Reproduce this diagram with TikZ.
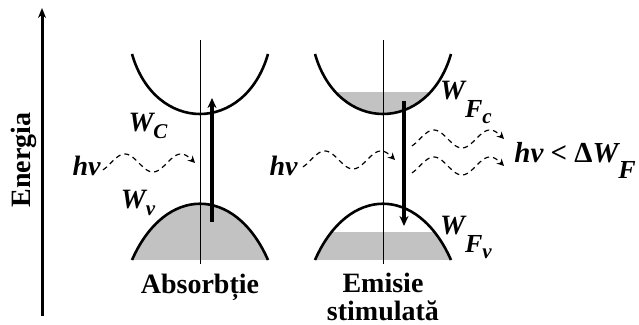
\documentclass[tikz,border=0pt]{standalone}
\usepackage{fontspec}
\setmainfont{Liberation Serif}
\usetikzlibrary{arrows.meta}
\definecolor{bandgrey}{HTML}{C2C2C2}

\tikzset{
  bandline/.style={line width=1.3pt},
  axisline/.style={line width=1.5pt, -{Stealth[length=5pt,width=4pt]}},
  levelline/.style={line width=0.5pt},
  transition/.style={line width=1.6pt, -{Stealth[length=5pt,width=4.5pt]}},
  photon/.style={line width=0.6pt, dash pattern=on 2.5pt off 2pt, -{Stealth[length=3.5pt,width=3.5pt]}},
  caption/.style={font=\fontsize{14}{14}\selectfont\bfseries, align=center, inner sep=0pt},
  sym/.style={font=\fontsize{14}{15}\selectfont\bfseries\itshape, inner sep=0pt},
}
\newcommand\lowsub[2]{\raisebox{#1}{\fontsize{10.5}{11}\selectfont #2}}

\begin{document}
\begin{tikzpicture}[x=0.5pt, y=-0.5pt]
  \useasboundingbox (0,0) rectangle (639,325);
  % energy axis
  \coordinate (e0) at (42,316);
  \coordinate (e1) at (42,8);
  \draw[axisline] (e0) -- (e1);
  \node[caption, rotate=90] (energy) at (24,160) {Energia};

  % grey fillings
  \fill[bandgrey] (132,260) .. controls (165,185) and (235,185) .. (268,260) -- cycle;
  \begin{scope}
    \clip (315,54) .. controls (338,134) and (428,134) .. (451,54) -- cycle;
    \fill[bandgrey] (300,92) rectangle (470,130);
  \end{scope}
  \begin{scope}
    \clip (315,260) .. controls (348,185) and (418,185) .. (451,260) -- cycle;
    \fill[bandgrey] (300,232) rectangle (470,262);
  \end{scope}

  % bands: conduction and valence
  \foreach \cx in {200,383} {
    \draw[levelline] (\cx,40) -- (\cx,264);
    \draw[bandline] (\cx-68,54) .. controls (\cx-45,134) and (\cx+45,134) .. (\cx+68,54);
    \draw[bandline] (\cx-68,260) .. controls (\cx-35,185) and (\cx+35,185) .. (\cx+68,260);
  }

  % transitions
  \coordinate (absLow) at (212,222);
  \coordinate (absHigh) at (212,98);
  \draw[transition] (absLow) -- (absHigh);
  \coordinate (emiHigh) at (404,101);
  \coordinate (emiLow) at (404,226);
  \draw[transition] (emiHigh) -- (emiLow);

  % photons
  \coordinate (pa) at (103,163);
  \coordinate (pe) at (303,160);
  \coordinate (po1) at (412,139);
  \coordinate (po2) at (412,166);
  \foreach \p in {pa,pe,po1,po2}
    \draw[photon, shift={(\p)}] plot[domain=40:630, samples=60] ({(\x-40)*0.156}, {9*cos(\x)});

  % labels
  \node[sym] (Wc) at (148,126) {W\lowsub{-0.6ex}{C}};
  \node[sym] (Wv) at (138,203) {W\lowsub{-0.6ex}{v}};
  \node[sym] (WFc) at (466,102) {W\lowsub{-1.4ex}{\fontsize{13}{15}\selectfont F\lowsub{-0.5ex}{c}}};
  \node[sym] (WFv) at (466,237) {W\lowsub{-1.4ex}{\fontsize{13}{15}\selectfont F\lowsub{-0.5ex}{v}}};
  \node[sym, anchor=east] (hvAbs) at (101,166) {hν};
  \node[sym, anchor=east] (hvEmi) at (298,166) {hν};
  \node[sym, anchor=west, font=\fontsize{14.5}{16}\selectfont\bfseries\itshape] (hvOut) at (514,160)
    {hν {\upshape <} {\upshape Δ}W\lowsub{-1.2ex}{\fontsize{13}{15}\selectfont F}};
  \node[caption] (absorb) at (200,287) {Absorbție};
  \node[caption] (emit) at (383,297) {Emisie\\stimulată};
\end{tikzpicture}
\end{document}
